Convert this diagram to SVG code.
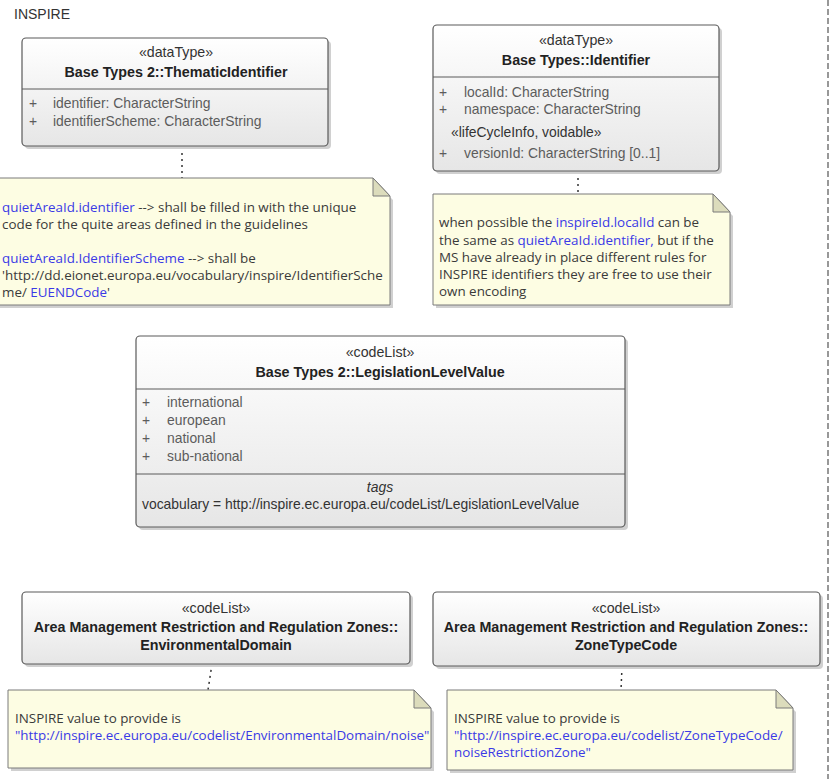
<svg xmlns="http://www.w3.org/2000/svg" width="833" height="779" viewBox="0 0 833 779">
<defs>
<linearGradient id="boxg" x1="0" y1="0" x2="0" y2="1">
<stop offset="0" stop-color="#ffffff"/>
<stop offset="1" stop-color="#e6e6e6"/>
</linearGradient>
<style>
.box{fill:url(#boxg);stroke:#5a5a5a;stroke-width:1.2}
.shadow{fill:#d0d0d0}
.div{stroke:#5a5a5a;stroke-width:1}
.st{font-family:"Liberation Sans",Arial,sans-serif;font-size:14.2px;fill:#333;text-anchor:middle}
.nm{font-family:"Liberation Sans",Arial,sans-serif;font-size:14.3px;font-weight:bold;fill:#222;text-anchor:middle}
.at{font-family:"Liberation Sans",Arial,sans-serif;font-size:13.9px;fill:#5c5c5c}
.tg{font-family:"Liberation Sans",Arial,sans-serif;font-size:13.9px;fill:#333}
.note{fill:#fdfde3;stroke:#7a7a7a;stroke-width:1}
.fold{fill:#dcdcbc;stroke:#7a7a7a;stroke-width:1}
.nt{font-family:"Open Sans","Noto Sans",sans-serif;font-size:13.4px;fill:#3a3a3a}
.bl{fill:#3a3ae6}
.con{stroke:#333;stroke-width:1.5;stroke-dasharray:2,4;fill:none}
.frame{stroke:#777;stroke-width:1.5;stroke-dasharray:6,3;fill:none}
.title{font-family:"Liberation Sans",Arial,sans-serif;font-size:14px;fill:#333}
</style>
</defs>
<rect x="0" y="0" width="833" height="779" fill="#ffffff"/>
<text class="title" x="14" y="19">INSPIRE</text>
<line class="frame" x1="828" y1="0" x2="828" y2="779"/>

<g id="connectors">
<line class="con" x1="182" y1="147" x2="182" y2="178"/>
<line class="con" x1="578" y1="172" x2="578" y2="194"/>
<line class="con" x1="212" y1="664" x2="208" y2="690"/>
<line class="con" x1="622" y1="667" x2="621" y2="690"/>
</g>

<g id="thematicIdentifier">
<rect class="shadow" x="25" y="41" width="306" height="108" rx="4"/>
<rect class="box" x="22" y="38" width="306" height="108" rx="4"/>
<line class="div" x1="22" y1="89" x2="328" y2="89"/>
<text class="st" x="176" y="57">«dataType»</text>
<text class="nm" x="176" y="77">Base Types 2::ThematicIdentifier</text>
<text class="at" x="29" y="108">+</text>
<text class="at" x="53" y="108">identifier: CharacterString</text>
<text class="at" x="29" y="126">+</text>
<text class="at" x="53" y="126">identifierScheme: CharacterString</text>
</g>

<g id="identifier">
<rect class="shadow" x="436" y="28" width="286" height="146" rx="4"/>
<rect class="box" x="433" y="25" width="286" height="146" rx="4"/>
<line class="div" x1="433" y1="77" x2="719" y2="77"/>
<text class="st" x="576" y="45">«dataType»</text>
<text class="nm" x="576" y="65">Base Types::Identifier</text>
<text class="at" x="439" y="97">+</text>
<text class="at" x="464" y="97">localId: CharacterString</text>
<text class="at" x="439" y="114">+</text>
<text class="at" x="464" y="114">namespace: CharacterString</text>
<text class="tg" x="451" y="137">«lifeCycleInfo, voidable»</text>
<text class="at" x="439" y="158">+</text>
<text class="at" x="464" y="158">versionId: CharacterString [0..1]</text>
</g>

<g id="note1">
<path class="shadow" d="M-8 181 H374 L393 200 V308 H-8 Z"/>
<path class="note" d="M-10 178 H373 L390 196 V305 H-10 Z"/>
<path class="fold" d="M373 178 V196 H390 Z"/>
<text class="nt" x="2" y="212"><tspan class="bl">quietAreaId.identifier</tspan> --&gt;  shall be filled in with the  unique</text>
<text class="nt" x="2" y="229">code for the quite areas defined in the guidelines</text>
<text class="nt" x="2" y="263"><tspan class="bl">quietAreaId.IdentifierScheme</tspan> --&gt; shall be</text>
<text class="nt" x="2" y="280">'http://dd.eionet.europa.eu/vocabulary/inspire/IdentifierSche</text>
<text class="nt" x="2" y="297">me/ <tspan class="bl">EUENDCode</tspan>'</text>
</g>

<g id="note2">
<path class="shadow" d="M436 197 H714 L733 216 V308 H436 Z"/>
<path class="note" d="M433 194 H713 L730 212 V305 H433 Z"/>
<path class="fold" d="M713 194 V212 H730 Z"/>
<text class="nt" x="439" y="227">when possible the <tspan class="bl">inspireId.localId</tspan> can be</text>
<text class="nt" x="439" y="245">the same as <tspan class="bl">quietAreaId.identifier,</tspan> but if the</text>
<text class="nt" x="439" y="262">MS have already in place different rules for</text>
<text class="nt" x="439" y="279">INSPIRE identifiers they are free to use their</text>
<text class="nt" x="439" y="296">own encoding</text>
</g>

<g id="legislationLevelValue">
<rect class="shadow" x="139" y="339" width="489" height="191" rx="4"/>
<rect class="box" x="136" y="336" width="489" height="191" rx="4"/>
<line class="div" x1="136" y1="389" x2="625" y2="389"/>
<line class="div" x1="136" y1="474" x2="625" y2="474"/>
<text class="st" x="380" y="357">«codeList»</text>
<text class="nm" x="380" y="377">Base Types 2::LegislationLevelValue</text>
<text class="at" x="142" y="407">+</text>
<text class="at" x="167" y="407">international</text>
<text class="at" x="142" y="425">+</text>
<text class="at" x="167" y="425">european</text>
<text class="at" x="142" y="443">+</text>
<text class="at" x="167" y="443">national</text>
<text class="at" x="142" y="461">+</text>
<text class="at" x="167" y="461">sub-national</text>
<text class="tg" x="380" y="492" text-anchor="middle" font-style="italic">tags</text>
<text class="tg" x="142" y="509">vocabulary = http://inspire.ec.europa.eu/codeList/LegislationLevelValue</text>
</g>

<g id="environmentalDomain">
<rect class="shadow" x="25" y="595" width="388" height="72" rx="4"/>
<rect class="box" x="22" y="592" width="388" height="72" rx="4"/>
<text class="st" x="216" y="613">«codeList»</text>
<text class="nm" x="216" y="632">Area Management Restriction and Regulation Zones::</text>
<text class="nm" x="216" y="650">EnvironmentalDomain</text>
</g>

<g id="zoneTypeCode">
<rect class="shadow" x="436" y="595" width="387" height="74" rx="4"/>
<rect class="box" x="433" y="592" width="387" height="74" rx="4"/>
<text class="st" x="626" y="613">«codeList»</text>
<text class="nm" x="626" y="632">Area Management Restriction and Regulation Zones::</text>
<text class="nm" x="626" y="650">ZoneTypeCode</text>
</g>

<g id="note4">
<path class="shadow" d="M11 693 H415 L434 712 V771 H11 Z"/>
<path class="note" d="M8 690 H414 L431 708 V768 H8 Z"/>
<path class="fold" d="M414 690 V708 H431 Z"/>
<text class="nt" x="15" y="723">INSPIRE value to provide is</text>
<text class="nt" x="15" y="740"><tspan class="bl">"http://inspire.ec.europa.eu/codelist/EnvironmentalDomain/noise"</tspan></text>
</g>

<g id="note5">
<path class="shadow" d="M450 693 H777 L796 712 V773 H450 Z"/>
<path class="note" d="M447 690 H776 L793 708 V770 H447 Z"/>
<path class="fold" d="M776 690 V708 H793 Z"/>
<text class="nt" x="454" y="723">INSPIRE value to provide is</text>
<text class="nt" x="454" y="740"><tspan class="bl">"http://inspire.ec.europa.eu/codelist/ZoneTypeCode/</tspan></text>
<text class="nt" x="454" y="757"><tspan class="bl">noiseRestrictionZone"</tspan></text>
</g>
</svg>
